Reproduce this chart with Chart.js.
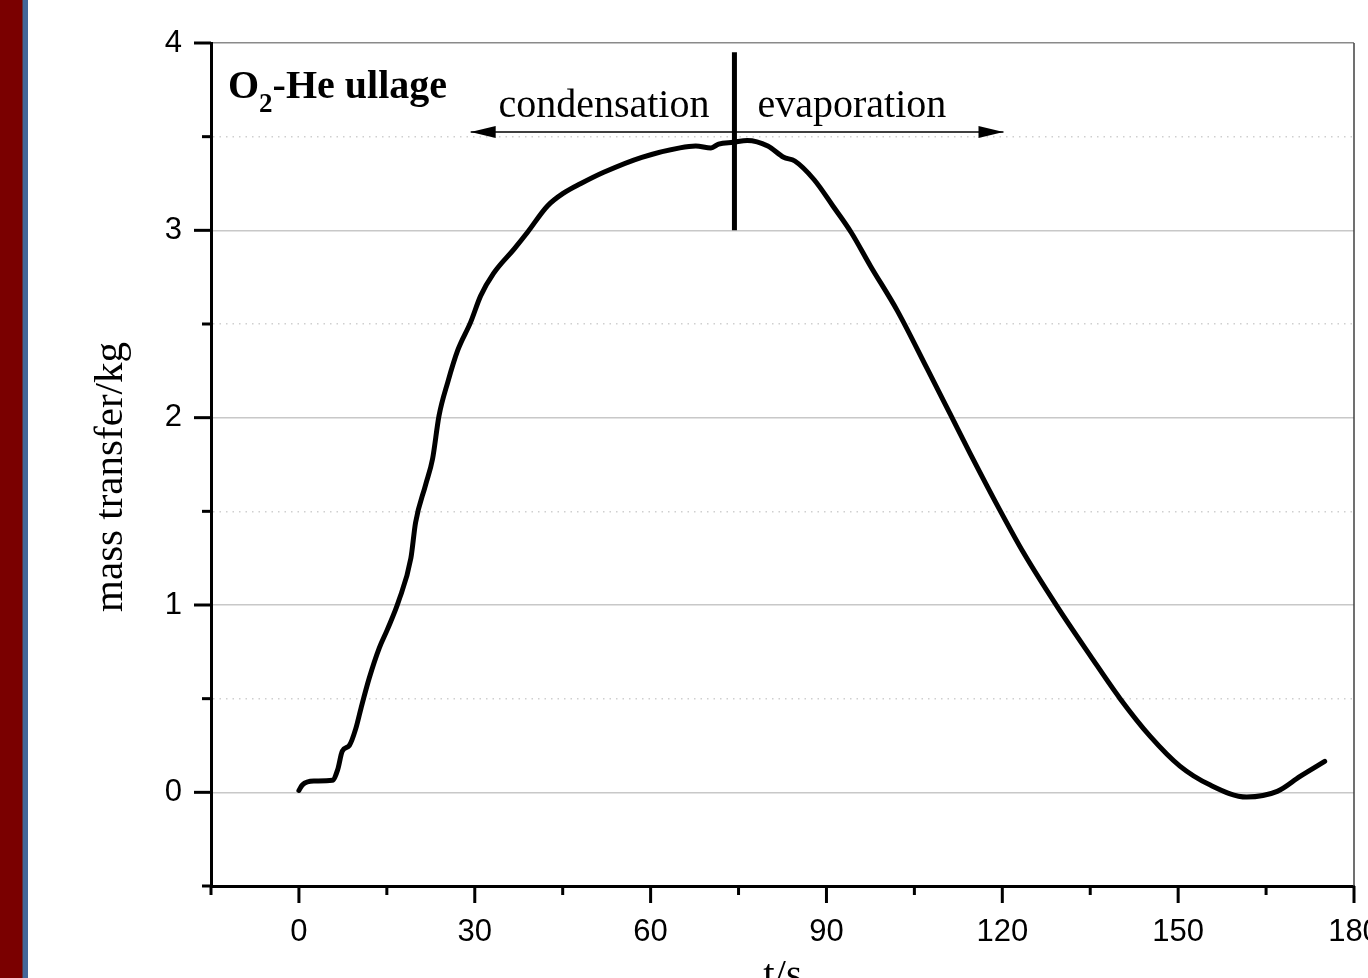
<!DOCTYPE html>
<html>
<head>
<meta charset="utf-8">
<script src="https://cdn.jsdelivr.net/npm/chart.js@4.4.0/dist/chart.umd.min.js"></script>
<style>
  html, body { margin: 0; padding: 0; background: #fff; overflow: hidden; }
  #strip {
    position: absolute; left: 0; top: 0; width: 28px; height: 978px;
    background: linear-gradient(to right, #7a0000 0, #7a0000 22px, #5c3444 22px, #5c3444 23px, #44679a 23px, #44679a 28px);
  }
  #chart { position: absolute; left: 0; top: 0; }
</style>
</head>
<body>
<div id="strip"></div>
<canvas id="chart" width="1368" height="978"></canvas>
<script>
// t/s vs mass transfer/kg
const times = [0, 0.6, 2.6, 5.7, 6.6, 7.4, 8.6, 9.7, 10.6, 12.0, 13.7, 15.1, 17.0, 19.1, 19.9,
  21.6, 22.8, 23.9, 25.4, 27.1, 29.3, 31.0, 33.2, 36.7, 39.0, 42.4, 45.2, 48.1, 52.0, 58.5,
  65.0, 67.7, 70.3, 71.6, 74.1, 76.5, 80.0, 82.7, 84.6, 87.9, 91.1, 94.2, 97.5, 102.1, 107.2,
  111.1, 114.5, 119.7, 123.6, 129.4, 135.0, 140.1, 145.2, 150.3, 155.4, 161.7, 166.9, 170.8, 175.0];
const massTransfer = [0.01, 0.04, 0.06, 0.064, 0.12, 0.22, 0.25, 0.34, 0.45, 0.61, 0.77, 0.87, 1.02, 1.25, 1.44,
  1.64, 1.78, 2.01, 2.19, 2.36, 2.51, 2.65, 2.77, 2.90, 2.99, 3.13, 3.20, 3.25, 3.31, 3.39,
  3.44, 3.45, 3.44, 3.46, 3.47, 3.48, 3.45, 3.39, 3.37, 3.27, 3.13, 2.99, 2.81, 2.57, 2.26,
  2.02, 1.81, 1.50, 1.28, 0.99, 0.73, 0.50, 0.30, 0.14, 0.04, -0.025, 0.005, 0.085, 0.165];

// condensation / evaporation marker
const dividerT = [74.3, 74.3];
const dividerY = [3.0, 3.95];
const arrowT = [29.3, 120.2];
const arrowY = [3.525, 3.525];

const xLabelValues = [0, 30, 60, 90, 120, 150, 180];
const yLabelValues = [0, 1, 2, 3, 4];

const toPoints = (xs, ys) => xs.map((v, i) => ({ x: v, y: ys[i] }));

const serif = '"Liberation Serif", "Times New Roman", serif';

const extras = {
  id: 'extras',
  afterDraw(chart) {
    const { ctx, chartArea: area } = chart;
    const x = chart.scales.x, y = chart.scales.y;
    ctx.save();

    // right frame line
    ctx.strokeStyle = '#404040';
    ctx.lineWidth = 1.5;
    ctx.beginPath();
    ctx.moveTo(area.right, area.top);
    ctx.lineTo(area.right, area.bottom);
    ctx.stroke();

    // tick marks, outward
    ctx.strokeStyle = '#000';
    ctx.lineWidth = 3;
    x.ticks.forEach(t => {
      const px = x.getPixelForValue(t.value);
      const len = xLabelValues.includes(t.value) ? 17 : 9;
      ctx.beginPath();
      ctx.moveTo(px, area.bottom);
      ctx.lineTo(px, area.bottom + len);
      ctx.stroke();
    });
    y.ticks.forEach(t => {
      const py = y.getPixelForValue(t.value);
      const len = yLabelValues.includes(t.value) ? 17 : 9;
      ctx.beginPath();
      ctx.moveTo(area.left, py);
      ctx.lineTo(area.left - len, py);
      ctx.stroke();
    });

    // arrow heads
    const ay = y.getPixelForValue(arrowY[0]);
    const lx = x.getPixelForValue(arrowT[0]);
    const rx = x.getPixelForValue(arrowT[1]);
    ctx.fillStyle = '#000';
    ctx.beginPath();
    ctx.moveTo(lx, ay); ctx.lineTo(lx + 25, ay - 6); ctx.lineTo(lx + 25, ay + 6);
    ctx.closePath(); ctx.fill();
    ctx.beginPath();
    ctx.moveTo(rx, ay); ctx.lineTo(rx - 25, ay - 6); ctx.lineTo(rx - 25, ay + 6);
    ctx.closePath(); ctx.fill();

    // annotation texts
    const dx = x.getPixelForValue(dividerT[0]);
    ctx.fillStyle = '#000';
    ctx.textBaseline = 'alphabetic';
    ctx.font = '40px ' + serif;
    ctx.textAlign = 'right';
    ctx.fillText('condensation', dx - 25, 117);
    ctx.textAlign = 'left';
    ctx.fillText('evaporation', dx + 23, 117);

    // O2-He ullage
    let tx = area.left + 17;
    ctx.font = 'bold 40px ' + serif;
    ctx.fillText('O', tx, 98);
    tx += ctx.measureText('O').width;
    ctx.font = 'bold 27px ' + serif;
    ctx.fillText('2', tx, 112);
    tx += ctx.measureText('2').width;
    ctx.font = 'bold 40px ' + serif;
    ctx.fillText('-He ullage', tx, 98);

    // axis titles
    ctx.font = '41px ' + serif;
    ctx.textAlign = 'center';
    ctx.fillText('t/s', (area.left + area.right) / 2, 987);
    ctx.translate(122, 477);
    ctx.rotate(-Math.PI / 2);
    ctx.fillText('mass transfer/kg', 0, 0);

    ctx.restore();
  }
};

new Chart(document.getElementById('chart'), {
  type: 'line',
  data: {
    datasets: [
      {
        data: toPoints(times, massTransfer),
        borderColor: '#000',
        borderWidth: 5,
        pointRadius: 0,
        cubicInterpolationMode: 'monotone',
        borderJoinStyle: 'round',
        borderCapStyle: 'round'
      },
      {
        data: toPoints(dividerT, dividerY),
        borderColor: '#000',
        borderWidth: 5,
        pointRadius: 0
      },
      {
        data: toPoints(arrowT, arrowY),
        borderColor: '#000',
        borderWidth: 1.5,
        pointRadius: 0
      }
    ]
  },
  options: {
    responsive: false,
    animation: false,
    devicePixelRatio: 1,
    layout: { padding: { top: 43, right: 14, left: 0, bottom: 0 } },
    plugins: {
      legend: { display: false },
      tooltip: { enabled: false }
    },
    scales: {
      x: {
        type: 'linear',
        min: -15,
        max: 180,
        afterFit: s => { s.height = 92; s.paddingLeft = 0; s.paddingRight = 0; },
        ticks: {
          stepSize: 15,
          autoSkip: false,
          maxRotation: 0,
          padding: 28,
          color: '#000',
          font: { family: '"Liberation Sans", Arial, sans-serif', size: 31 },
          callback: v => xLabelValues.includes(v) ? String(v) : ''
        },
        grid: { display: false, drawTicks: false },
        border: { display: true, color: '#000', width: 3 }
      },
      y: {
        min: -0.5,
        max: 4,
        afterFit: s => { s.width = 211; s.paddingTop = 0; s.paddingBottom = 0; },
        ticks: {
          stepSize: 0.5,
          autoSkip: false,
          padding: 29,
          color: '#000',
          font: { family: '"Liberation Sans", Arial, sans-serif', size: 31 },
          callback: v => yLabelValues.includes(v) ? String(v) : ''
        },
        grid: {
          drawTicks: false,
          lineWidth: 1.5,
          color: c => {
            const v = c.tick ? c.tick.value : null;
            if (v === -0.5) return 'rgba(0,0,0,0)';
            if (v === 4) return '#8a8a8a';
            return Number.isInteger(v) ? '#c8c8c8' : '#cfcfcf';
          }
        },
        border: {
          display: true,
          color: '#000',
          width: 3,
          dash: c => (c.tick && !Number.isInteger(c.tick.value)) ? [1.5, 5] : []
        }
      }
    }
  },
  plugins: [extras]
});
</script>
</body>
</html>
